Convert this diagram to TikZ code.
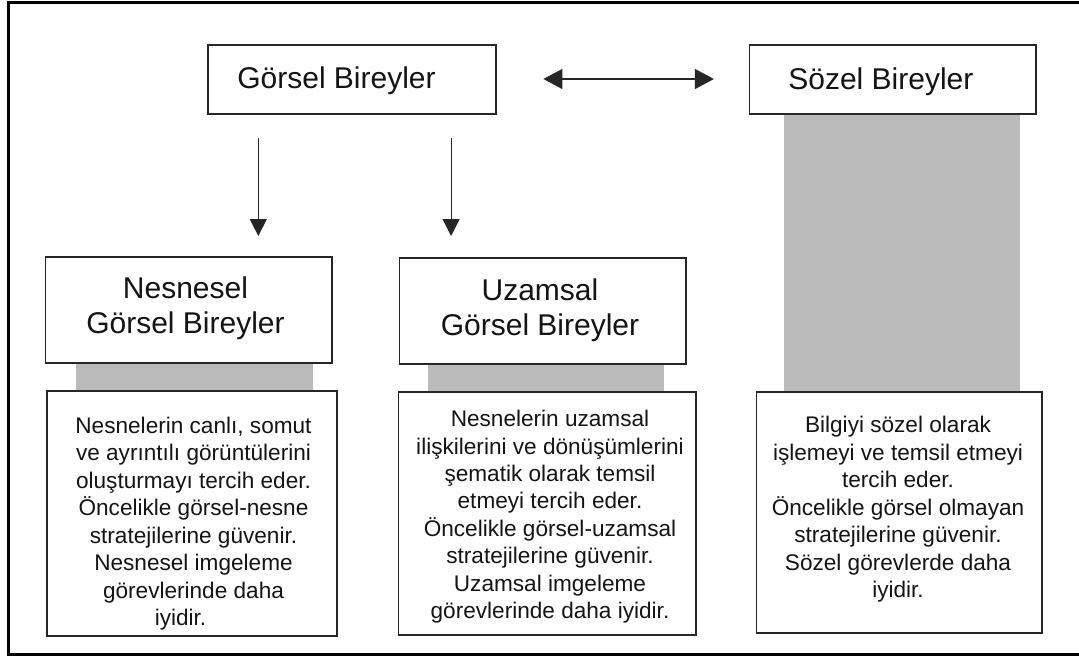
\documentclass[tikz,border=0pt]{standalone}
\usepackage{fontspec}
\setmainfont{Liberation Sans}
\usetikzlibrary{arrows.meta}
\newcommand\txtblk[4]{\parbox[t]{#1}{\centering\fontsize{#2}{#3}\selectfont #4}}
\begin{document}
\begin{tikzpicture}[x=1pt,y=-1pt,
  box/.style={draw=black!85, line width=1.7pt, fill=white, inner sep=0pt, anchor=center},
  pillar/.style={fill=black!27},
  lbl/.style={anchor=base, inner sep=0pt, text=black!92},
  arr/.style={line width=1.1pt, draw=black!85, -{Triangle[width=17pt,length=17pt]}},
  darr/.style={line width=1.1pt, draw=black!85, {Triangle[width=20pt,length=19pt]}-{Triangle[width=20pt,length=19pt]}}
]
\useasboundingbox[fill=white] (0,0) rectangle (1079,656);
% frame
\draw[line width=3pt] (1090,2) -- (8.3,2) -- (8.3,654.5) -- (1090,654.5);
% pillars
\fill[pillar] (76.4,362) rectangle (312.7,392);
\fill[pillar] (427.5,363) rectangle (663.6,393);
\fill[pillar] (783.8,113) rectangle (1020.4,393);
% boxes
\node[box, minimum width=287.6pt, minimum height=69pt] (gb) at (352.1,79.5) {};
\node[box, minimum width=286.6pt, minimum height=69pt] (sb) at (892.7,79.5) {};
\node[box, minimum width=286.5pt, minimum height=106pt] (nt) at (188.8,310) {};
\node[box, minimum width=286.8pt, minimum height=106pt] (ut) at (542.8,311) {};
\node[box, minimum width=289.6pt, minimum height=245pt] (nb) at (192,513.5) {};
\node[box, minimum width=297.7pt, minimum height=243pt] (ub) at (547.2,513.5) {};
\node[box, minimum width=285.7pt, minimum height=241pt] (zb) at (899.2,512.5) {};
% titles
\node[lbl] (gbt) at (336.5,88.5) {\fontsize{30}{35}\selectfont Görsel Bireyler};
\node[lbl] (sbt) at (880.9,89.3) {\fontsize{30}{35}\selectfont Sözel Bireyler};
\node[lbl] (ntt) at (185.5,298.3) {\txtblk{280pt}{30}{35}{Nesnesel\\Görsel Bireyler}};
\node[lbl] (utt) at (540,300) {\txtblk{280pt}{30}{35}{Uzamsal\\Görsel Bireyler}};
% bodies
\node[lbl] (nbt) at (193.5,433.3) {\txtblk{310pt}{22.6}{27.5}{Nesnelerin canlı, somut\\ve ayrıntılı görüntülerini\\oluşturmayı tercih eder.\\Öncelikle görsel-nesne\\stratejilerine güvenir.\\Nesnesel imgeleme\\görevlerinde daha\\iyidir.\hspace*{26pt}}};
\node[lbl] (ubt) at (550,426.7) {\txtblk{320pt}{22.6}{27.4}{Nesnelerin uzamsal\\ilişkilerini ve dönüşümlerini\\şematik olarak temsil\\etmeyi tercih eder.\\Öncelikle görsel-uzamsal\\stratejilerine güvenir.\\Uzamsal imgeleme\\görevlerinde daha iyidir.}};
\node[lbl] (zbt) at (898,432.7) {\txtblk{310pt}{22.6}{27.5}{Bilgiyi sözel olarak\\işlemeyi ve temsil etmeyi\\tercih eder.\\Öncelikle görsel olmayan\\stratejilerine güvenir.\\Sözel görevlerde daha\\iyidir.}};
% arrows
\coordinate (a1s) at (258.3,138);
\coordinate (a1e) at (258.3,236);
\coordinate (a2s) at (451.1,138);
\coordinate (a2e) at (451.1,236);
\coordinate (dl) at (543.4,79);
\coordinate (dr) at (713.9,79);
\draw[arr] (a1s) -- (a1e);
\draw[arr] (a2s) -- (a2e);
\draw[darr] (dl) -- (dr);
\end{tikzpicture}
\end{document}
